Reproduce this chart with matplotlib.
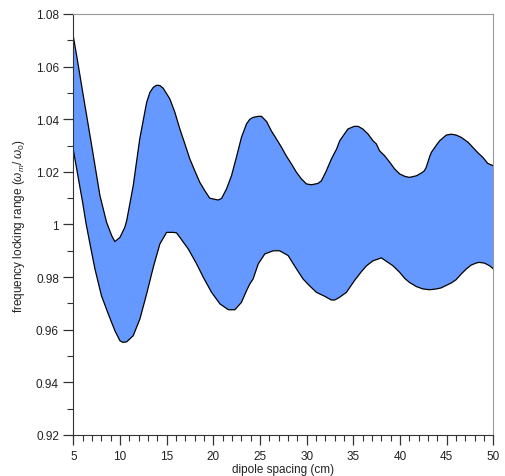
import numpy as np
import matplotlib.pyplot as plt
from matplotlib.ticker import MultipleLocator, FuncFormatter

plt.rcParams['font.family'] = ['Liberation Sans', 'DejaVu Sans']
plt.rcParams['mathtext.fontset'] = 'custom'
plt.rcParams['mathtext.rm'] = 'Liberation Sans'
plt.rcParams['mathtext.it'] = 'Liberation Sans:italic'

# upper edge of locking range
upper_x = [5.0, 5.34, 6.05, 6.95, 7.84, 8.55, 9.1, 9.44, 9.98, 10.5, 10.7, 11.4, 12.1,
           12.84, 13.19, 13.55, 13.9, 14.26, 14.61, 15.33, 15.87, 16.4, 16.94, 17.47,
           18.0, 18.54, 19.08, 19.6, 19.97, 20.5, 20.87, 21.4, 21.94, 22.5, 23.0,
           23.54, 23.9, 24.25, 24.8, 25.15, 25.7, 26.2, 26.75, 27.3, 27.8, 28.36,
           28.9, 29.43, 29.97, 30.5, 31.2, 31.57, 32.1, 32.64, 33.2, 33.53, 33.9,
           34.42, 35.1, 35.5, 36.0, 36.56, 37.1, 37.46, 37.8, 38.35, 38.9, 39.42,
           39.96, 40.5, 41.0, 41.75, 42.3, 42.6, 42.8, 43.2, 43.35, 43.9, 44.24,
           44.96, 45.5, 46.0, 46.56, 47.3, 47.8, 48.3, 48.87, 49.4, 50.0]
upper_y = [1.0711, 1.0642, 1.049, 1.030, 1.0109, 1.0008, 0.9957, 0.9935, 0.9951,
           0.9989, 1.0014, 1.0147, 1.0325, 1.0464, 1.0502, 1.0521, 1.0529, 1.0528,
           1.0518, 1.0477, 1.0426, 1.0363, 1.0306, 1.0249, 1.0204, 1.016, 1.0128,
           1.010, 1.0097, 1.0093, 1.0099, 1.0135, 1.0186, 1.0261, 1.0331, 1.0382,
           1.040, 1.0407, 1.0411, 1.0411, 1.0391, 1.0356, 1.0325, 1.0293, 1.0261,
           1.023, 1.0198, 1.0173, 1.0154, 1.0151, 1.0156, 1.0166, 1.0204, 1.0249,
           1.0287, 1.0318, 1.0337, 1.0363, 1.0373, 1.0373, 1.0363, 1.0344, 1.0318,
           1.0306, 1.028, 1.0261, 1.0236, 1.0211, 1.0192, 1.0183, 1.0179, 1.0185,
           1.0196, 1.0204, 1.0217, 1.0261, 1.0274, 1.0302, 1.0318, 1.034, 1.0343,
           1.034, 1.0331, 1.0312, 1.0293, 1.0274, 1.0255, 1.0232, 1.0223]

# lower edge of locking range
lower_x = [5.0, 5.5, 6.0, 6.34, 6.77, 7.3, 8.0, 8.73, 9.44, 9.98, 10.3, 10.7, 11.4,
           12.12, 12.84, 13.55, 14.26, 14.98, 15.7, 16.05, 16.4, 17.3, 18.2, 18.9,
           19.8, 20.7, 21.6, 22.3, 23.0, 23.54, 23.9, 24.25, 24.8, 25.5, 26.4, 27.1,
           28.0, 28.9, 29.6, 30.3, 31.04, 31.93, 32.64, 33.0, 33.5, 34.25, 35.1,
           35.86, 36.4, 37.1, 38.0, 38.7, 39.24, 39.96, 40.5, 41.0, 41.75, 42.45,
           43.17, 43.9, 44.4, 45.5, 46.0, 46.56, 47.1, 47.63, 48.2, 48.5, 49.06,
           49.6, 50.0]
lower_y = [1.028, 1.018, 1.008, 1.0005, 0.9926, 0.9831, 0.9729, 0.966, 0.9596,
           0.9558, 0.9552, 0.9554, 0.9577, 0.9641, 0.9736, 0.9837, 0.9926, 0.997,
           0.997, 0.9968, 0.9951, 0.9907, 0.985, 0.980, 0.9742, 0.9698, 0.9676,
           0.9676, 0.9704, 0.9748, 0.9774, 0.9793, 0.985, 0.9888, 0.990, 0.990,
           0.9882, 0.9831, 0.9793, 0.9767, 0.9742, 0.9727, 0.9713, 0.9713, 0.9723,
           0.9742, 0.9786, 0.9821, 0.9843, 0.9862, 0.9873, 0.9856, 0.9843, 0.9818,
           0.9795, 0.978, 0.9764, 0.9755, 0.9752, 0.9755, 0.9759, 0.9778, 0.979,
           0.9812, 0.9831, 0.9846, 0.9854, 0.9856, 0.9853, 0.9843, 0.9831]

fig = plt.figure(figsize=(5.05, 4.77), dpi=100)
ax = fig.add_axes([0.1455, 0.086, 0.8315, 0.8826])

ux = np.array(upper_x)
lx = np.array(lower_x)
poly_x = np.concatenate([ux, lx[::-1]])
poly_y = np.concatenate([upper_y, lower_y[::-1]])
ax.fill(poly_x, poly_y, facecolor='#6699ff', edgecolor='none')
ax.plot(upper_x, upper_y, color='black', lw=0.9, solid_joinstyle='round')
ax.plot(lower_x, lower_y, color='black', lw=0.9, solid_joinstyle='round')

ax.set_xlim(5, 50)
ax.set_ylim(0.92, 1.08)
ax.xaxis.set_major_locator(MultipleLocator(5))
ax.xaxis.set_minor_locator(MultipleLocator(1))
ax.yaxis.set_major_locator(MultipleLocator(0.02))
ax.yaxis.set_minor_locator(MultipleLocator(0.01))
ax.yaxis.set_major_formatter(FuncFormatter(lambda v, p: ('%.2f' % v).rstrip('0').rstrip('.')))

ax.tick_params(which='major', direction='out', length=7, width=0.9, labelsize=8.5, color='#333333', labelcolor='#222222')
ax.tick_params(which='minor', direction='out', length=4, width=0.8, color='#333333')
for side in ['top', 'right']:
    ax.spines[side].set_color('#999999')
for side in ['left', 'bottom']:
    ax.spines[side].set_color('#333333')

ax.set_xlabel('dipole spacing (cm)', fontsize=8.5, labelpad=1, color='#222222')
ax.set_ylabel(r'frequency locking range ($\omega_{m}$/ $\omega_{0}$)', fontsize=8.5, labelpad=6, color='#222222')

fig.savefig('out.png', dpi=100)
